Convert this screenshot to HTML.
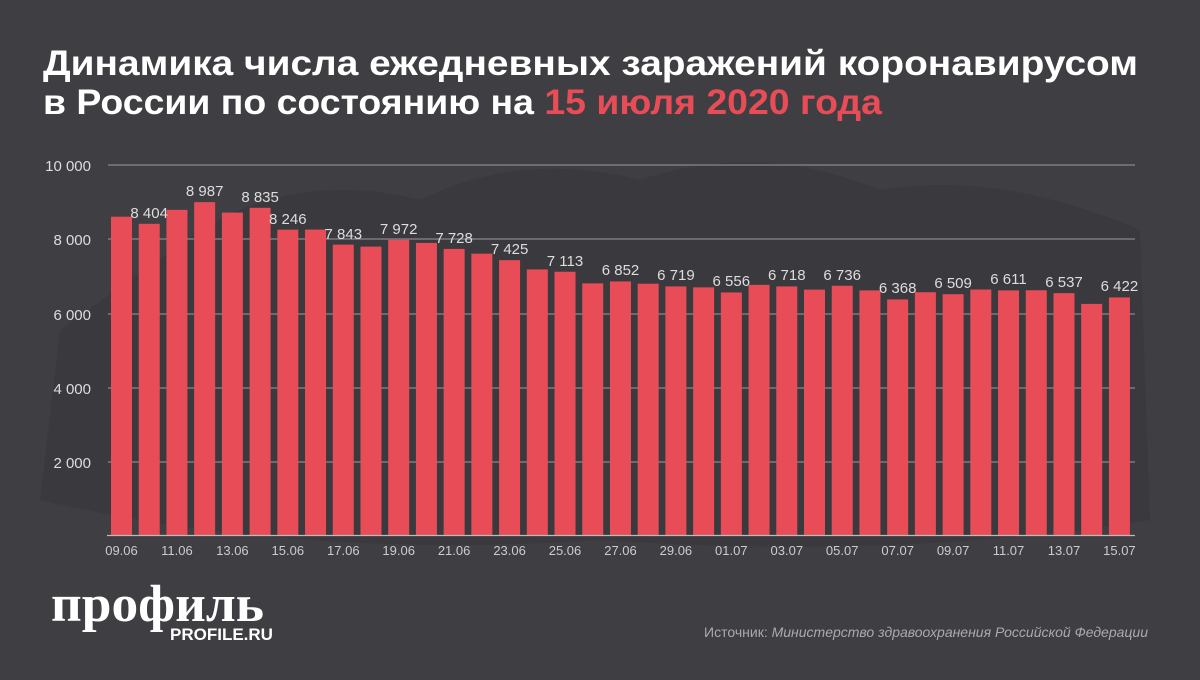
<!DOCTYPE html>
<html><head><meta charset="utf-8"><style>
body{margin:0;width:1200px;height:675px;background:#3f3e43;overflow:hidden;font-family:"Liberation Sans",sans-serif}
</style></head><body>
<svg width="1200" height="675" xmlns="http://www.w3.org/2000/svg" font-family="Liberation Sans, sans-serif">
<rect width="1200" height="675" fill="#3f3e43"/>
<path d="M200 230 Q300 170 420 200 Q520 150 640 180 Q760 140 880 190 Q1000 170 1140 230 L1150 520 Q900 560 600 540 Q300 560 40 500 L60 330 Z" fill="#3a393e"/>
<text x="43" y="75" font-size="35" font-weight="bold" fill="#fff" textLength="1095" lengthAdjust="spacingAndGlyphs">Динамика числа ежедневных заражений коронавирусом</text>
<text x="43" y="114" font-size="35" font-weight="bold" fill="#fff" textLength="839" lengthAdjust="spacingAndGlyphs">в России по состоянию на <tspan fill="#e84d57">15 июля 2020 года</tspan></text>
<g stroke="#8a898d" stroke-width="1.3">
<line x1="108" x2="1135" y1="165" y2="165"/><line x1="108" x2="1135" y1="239" y2="239"/><line x1="108" x2="1135" y1="314" y2="314"/><line x1="108" x2="1135" y1="388" y2="388"/><line x1="108" x2="1135" y1="462" y2="462"/>
</g>
<g font-size="15" fill="#ddd" text-anchor="end">
<text x="91" y="171">10 000</text><text x="91" y="245">8 000</text><text x="91" y="320">6 000</text><text x="91" y="394">4 000</text><text x="91" y="468">2 000</text>
</g>
<g transform="translate(111,536) scale(27.72,-0.03715)" fill="#e84d57">
<rect x="0" width="0.7576" height="8595"/><rect x="1" width="0.7576" height="8404"/><rect x="2" width="0.7576" height="8779"/><rect x="3" width="0.7576" height="8987"/><rect x="4" width="0.7576" height="8706"/><rect x="5" width="0.7576" height="8835"/><rect x="6" width="0.7576" height="8246"/><rect x="7" width="0.7576" height="8248"/><rect x="8" width="0.7576" height="7843"/><rect x="9" width="0.7576" height="7790"/><rect x="10" width="0.7576" height="7972"/><rect x="11" width="0.7576" height="7889"/><rect x="12" width="0.7576" height="7728"/><rect x="13" width="0.7576" height="7600"/><rect x="14" width="0.7576" height="7425"/><rect x="15" width="0.7576" height="7176"/><rect x="16" width="0.7576" height="7113"/><rect x="17" width="0.7576" height="6800"/><rect x="18" width="0.7576" height="6852"/><rect x="19" width="0.7576" height="6791"/><rect x="20" width="0.7576" height="6719"/><rect x="21" width="0.7576" height="6693"/><rect x="22" width="0.7576" height="6556"/><rect x="23" width="0.7576" height="6760"/><rect x="24" width="0.7576" height="6718"/><rect x="25" width="0.7576" height="6632"/><rect x="26" width="0.7576" height="6736"/><rect x="27" width="0.7576" height="6611"/><rect x="28" width="0.7576" height="6368"/><rect x="29" width="0.7576" height="6562"/><rect x="30" width="0.7576" height="6509"/><rect x="31" width="0.7576" height="6635"/><rect x="32" width="0.7576" height="6611"/><rect x="33" width="0.7576" height="6615"/><rect x="34" width="0.7576" height="6537"/><rect x="35" width="0.7576" height="6248"/><rect x="36" width="0.7576" height="6422"/>
</g>
<line x1="107" x2="1135" y1="535.5" y2="535.5" stroke="#bbb" stroke-width="1.3"/>
<g font-size="15" fill="#ddd" text-anchor="middle">
<text x="149.2" y="218">8 404</text><text x="204.7" y="196">8 987</text><text x="260.1" y="202">8 835</text><text x="287.8" y="224">8 246</text><text x="343.3" y="239">7 843</text><text x="398.7" y="234">7 972</text><text x="454.1" y="243">7 728</text><text x="509.6" y="254">7 425</text><text x="565" y="266">7 113</text><text x="620.5" y="275">6 852</text><text x="675.9" y="280">6 719</text><text x="731.3" y="286">6 556</text><text x="786.8" y="280">6 718</text><text x="842.2" y="280">6 736</text><text x="897.7" y="293">6 368</text><text x="953.1" y="288">6 509</text><text x="1008.5" y="284">6 611</text><text x="1064" y="287">6 537</text><text x="1119.4" y="291">6 422</text>
</g>
<g font-size="13" fill="#ccc" text-anchor="middle">
<text x="121.5" y="555">09.06</text><text x="176.9" y="555">11.06</text><text x="232.4" y="555">13.06</text><text x="287.8" y="555">15.06</text><text x="343.3" y="555">17.06</text><text x="398.7" y="555">19.06</text><text x="454.1" y="555">21.06</text><text x="509.6" y="555">23.06</text><text x="565" y="555">25.06</text><text x="620.5" y="555">27.06</text><text x="675.9" y="555">29.06</text><text x="731.3" y="555">01.07</text><text x="786.8" y="555">03.07</text><text x="842.2" y="555">05.07</text><text x="897.7" y="555">07.07</text><text x="953.1" y="555">09.07</text><text x="1008.5" y="555">11.07</text><text x="1064" y="555">13.07</text><text x="1119.4" y="555">15.07</text>
</g>
<text x="51" y="621" font-family="Liberation Serif, serif" font-size="52" font-weight="bold" fill="#fff" textLength="213" lengthAdjust="spacingAndGlyphs">профиль</text>
<text x="170" y="640" font-size="17" font-weight="bold" fill="#fff">PROFILE.RU</text>
<text x="1148" y="637" font-size="14" fill="#aaa" text-anchor="end">Источник: <tspan font-style="italic">Министерство здравоохранения Российской Федерации</tspan></text>
</svg>
</body></html>
